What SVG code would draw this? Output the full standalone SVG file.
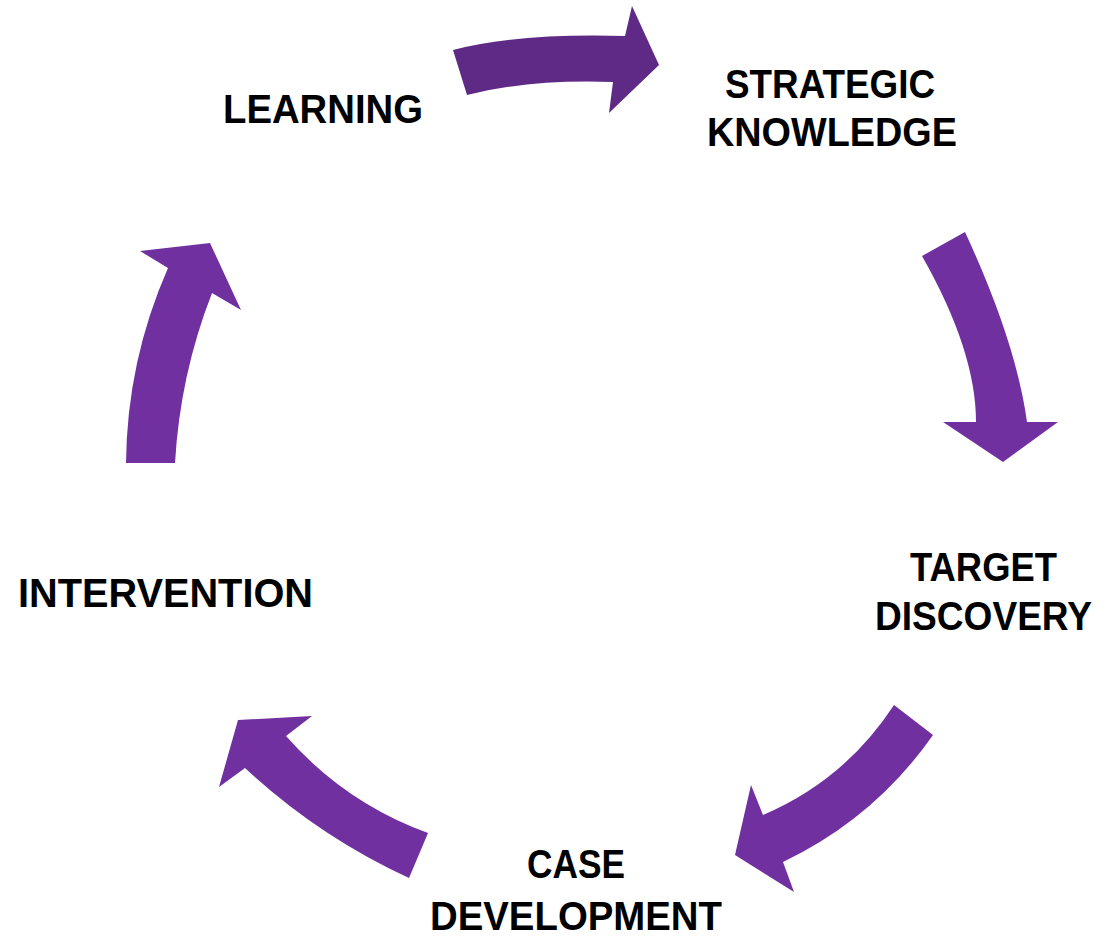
<svg xmlns="http://www.w3.org/2000/svg" width="1106" height="936" viewBox="0 0 1106 936">
<style>
.lbl{font-family:"Liberation Sans",Arial,sans-serif;font-weight:bold;font-size:41px;fill:#000}
.arr{fill:#7030A0;stroke:none}
</style>
<rect width="1106" height="936" fill="#fff"/>
<g id="connectors">
<path id="arrow-learning-strategic" class="arr" style="fill:#5F2A86" d="M453,50 Q518,33 625,36 L632,6 L659,65 L609,113 L613,82 Q530,79 467,95 Z"/>
<path id="arrow-strategic-target" class="arr" d="M922,256 L965,232 Q1016,342 1027,422 L1058,422 L1003,462 L943,422 L976,422 Q976,351 922,256 Z"/>
<path id="arrow-target-case" class="arr" d="M894,705 L933,735 Q875,818 783,862 L794,892 L735,855 L751,785 L763,815 Q845,780 894,705 Z"/>
<path id="arrow-case-intervention" class="arr" d="M428,833 L409,878 Q318,836 245,768 L219,787 L238,720 L312,716 L286,736 Q345,803 428,833 Z"/>
<path id="arrow-intervention-learning" class="arr" d="M126,463 L175,463 Q180,375 212,293 L241,310 L210,243 L140,251 L168,268 Q127,361 126,463 Z"/>
</g>
<g id="node-learning"><text class="lbl" x="223" y="123" textLength="200" lengthAdjust="spacingAndGlyphs">LEARNING</text></g>
<g id="node-strategic-knowledge">
<text class="lbl" x="725" y="98" textLength="210" lengthAdjust="spacingAndGlyphs">STRATEGIC</text>
<text class="lbl" x="707" y="146" textLength="250" lengthAdjust="spacingAndGlyphs">KNOWLEDGE</text>
</g>
<g id="node-target-discovery">
<text class="lbl" x="910" y="581" textLength="147" lengthAdjust="spacingAndGlyphs">TARGET</text>
<text class="lbl" x="875" y="630" textLength="217" lengthAdjust="spacingAndGlyphs">DISCOVERY</text>
</g>
<g id="node-case-development">
<text class="lbl" x="527" y="878" textLength="98" lengthAdjust="spacingAndGlyphs">CASE</text>
<text class="lbl" x="430" y="930" textLength="292" lengthAdjust="spacingAndGlyphs">DEVELOPMENT</text>
</g>
<g id="node-intervention"><text class="lbl" x="18" y="607" textLength="295" lengthAdjust="spacingAndGlyphs">INTERVENTION</text></g>
</svg>
